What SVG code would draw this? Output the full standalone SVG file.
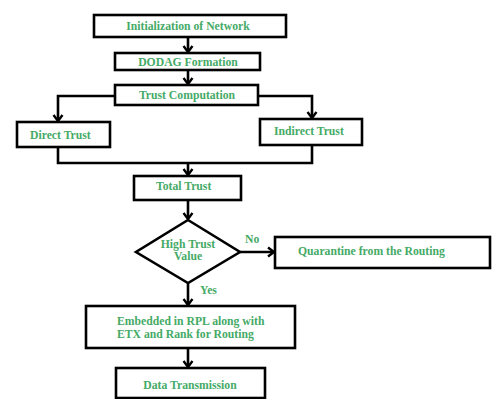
<svg xmlns="http://www.w3.org/2000/svg" width="492" height="399" viewBox="0 0 492 399">
<style>
.box{fill:#fff;stroke:#000;stroke-width:2.6}
.t{font-family:"Liberation Serif",serif;font-weight:bold;font-size:11.7px;fill:#45aa66}
.c{text-anchor:middle}
.ln{fill:none;stroke:#000;stroke-width:2.6}
</style>
<defs>
<marker id="ah" markerWidth="12" markerHeight="12" refX="9" refY="6" orient="auto" markerUnits="userSpaceOnUse">
<path d="M3,1.5 L9,6 L3,10.5" fill="none" stroke="#000" stroke-width="2.4"/>
</marker>
</defs>
<rect width="492" height="399" fill="#fff"/>
<g id="connectors">
<line class="ln" x1="188" y1="37" x2="188" y2="52" marker-end="url(#ah)"/>
<line class="ln" x1="188" y1="70" x2="188" y2="84" marker-end="url(#ah)"/>
<polyline class="ln" points="115,96 58,96 58,121" marker-end="url(#ah)"/>
<polyline class="ln" points="258,96 312,96 312,118" marker-end="url(#ah)"/>
<polyline class="ln" points="58,147 58,163 312,163 312,145"/>
<line class="ln" x1="188" y1="163" x2="188" y2="175" marker-end="url(#ah)"/>
<line class="ln" x1="188" y1="200" x2="188" y2="219" marker-end="url(#ah)"/>
<line class="ln" x1="240" y1="252" x2="274" y2="252" marker-end="url(#ah)"/>
<line class="ln" x1="188" y1="283" x2="188" y2="305" marker-end="url(#ah)"/>
<line class="ln" x1="188" y1="348" x2="188" y2="367" marker-end="url(#ah)"/>
<text class="t" x="245" y="243">No</text>
<text class="t" x="200" y="294">Yes</text>
</g>
<g id="n1"><rect class="box" x="94" y="15" width="192" height="22"/><text class="t c" x="188" y="30">Initialization of Network</text></g>
<g id="n2"><rect class="box" x="115" y="53" width="145" height="17"/><text class="t c" x="188" y="66">DODAG Formation</text></g>
<g id="n3"><rect class="box" x="115" y="85" width="143" height="20"/><text class="t c" x="187" y="99">Trust Computation</text></g>
<g id="n4"><rect class="box" x="17" y="122" width="93" height="25"/><text class="t" x="30" y="139">Direct Trust</text></g>
<g id="n5"><rect class="box" x="260" y="119" width="102" height="26"/><text class="t" x="274" y="135">Indirect Trust</text></g>
<g id="n6"><rect class="box" x="134" y="176" width="107" height="24"/><text class="t" x="156" y="190">Total Trust</text></g>
<g id="n7"><polygon class="box" points="188,220 240,252 188,283 136,252"/><text class="t c" x="188" y="248">High Trust</text><text class="t c" x="188" y="260">Value</text></g>
<g id="n8"><rect class="box" x="275" y="237" width="215" height="31"/><text class="t" x="298" y="255">Quarantine from the Routing</text></g>
<g id="n9"><rect class="box" x="86" y="306" width="209" height="42"/><text class="t" x="117" y="325">Embedded in RPL along with</text><text class="t" x="117" y="338">ETX and Rank for Routing</text></g>
<g id="n10"><rect class="box" x="116" y="368" width="149" height="30"/><text class="t c" x="190" y="389">Data Transmission</text></g>
</svg>
